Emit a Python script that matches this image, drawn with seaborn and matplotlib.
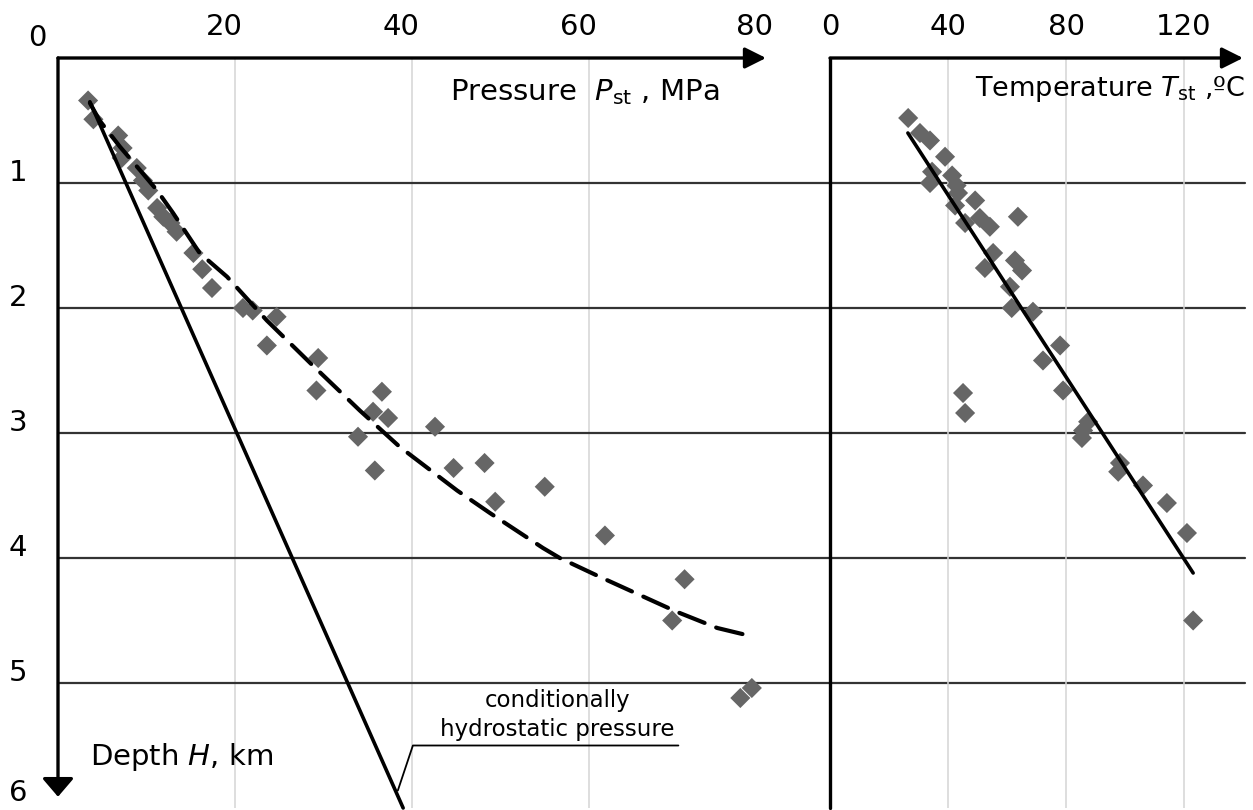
import numpy as np
import pandas as pd
import seaborn as sns
import matplotlib.pyplot as plt

# measured pressure vs depth (MPa, km)
pressure = [3.4, 4.0, 6.8, 7.3, 7.2, 8.9, 9.6, 10.2, 11.2, 11.9, 12.7, 13.4,
            15.3, 16.3, 17.4, 20.9, 22.0, 24.7, 23.6, 29.4, 29.2, 36.6, 35.6,
            37.3, 33.9, 35.8, 42.6, 44.7, 48.2, 49.4, 55.0, 61.8, 70.8, 69.4,
            78.4, 77.1]
pressure_depth = [0.34, 0.49, 0.62, 0.72, 0.80, 0.88, 0.98, 1.06, 1.20, 1.27,
                  1.32, 1.39, 1.56, 1.69, 1.84, 2.00, 2.02, 2.07, 2.30, 2.40,
                  2.66, 2.67, 2.83, 2.88, 3.03, 3.30, 2.95, 3.28, 3.24, 3.55,
                  3.43, 3.82, 4.17, 4.50, 5.04, 5.12]

# trend curve through the pressure points (dashed)
trend_p = [3.6, 4.7, 7.0, 9.3, 11.2, 13.0, 16.0, 19.1, 23.6, 28.5, 34.1, 38.6,
           45.1, 48.8, 54.8, 56.7, 61.2, 69.9, 74.5, 78.6]
trend_h = [0.36, 0.50, 0.71, 0.90, 1.06, 1.24, 1.56, 1.75, 2.10, 2.44, 2.82,
           3.11, 3.46, 3.64, 3.92, 4.00, 4.15, 4.43, 4.56, 4.63]

# conditionally hydrostatic pressure line
hydro_p = [3.6, 39.0]
hydro_h = [0.35, 6.0]

# measured temperature vs depth (degC, km)
temperature = [26.5, 30.5, 33.9, 39.0, 34.6, 33.9, 41.4, 42.9, 43.4, 49.2, 42.4,
               45.8, 50.8, 54.2, 63.7, 55.3, 52.5, 62.7, 65.1, 61.0, 61.6, 68.8,
               78.0, 72.2, 79.0, 45.1, 45.8, 87.5, 85.8, 85.4, 98.3, 97.7, 106.1,
               114.2, 121.0, 123.1]
temperature_depth = [0.48, 0.60, 0.66, 0.79, 0.91, 1.00, 0.94, 1.02, 1.08, 1.14,
                     1.18, 1.32, 1.28, 1.35, 1.27, 1.56, 1.68, 1.62, 1.70, 1.83,
                     2.00, 2.03, 2.30, 2.42, 2.66, 2.68, 2.84, 2.91, 2.98, 3.04,
                     3.24, 3.31, 3.42, 3.56, 3.80, 4.50]

# linear fit for temperature
tfit_t = [26.4, 123.1]
tfit_h = [0.60, 4.12]

p_ticks = [20, 40, 60, 80]
t_ticks = [0, 40, 80, 120]
depth_ticks = [1, 2, 3, 4, 5, 6]

sns.set_style("white")
plt.rcParams['font.family'] = ['DejaVu Sans']
plt.rcParams['mathtext.fontset'] = 'dejavusans'
plt.rcParams['text.color'] = 'black'

W, H = 1253, 810
fig = plt.figure(figsize=(W / 100, H / 100), dpi=100)


def px_axes(x0, x1, y0, y1):
    return fig.add_axes([x0 / W, 1 - y1 / H, (x1 - x0) / W, (y1 - y0) / H])


ax1 = px_axes(58, 766, 58, 808)
ax2 = px_axes(830, 1243, 58, 808)

ax1.set_xlim(0, 80)
ax2.set_xlim(0, 140)
for ax in (ax1, ax2):
    ax.set_ylim(6, 0)
    ax.set_xticks([])
    ax.set_yticks([])
    for s in ax.spines.values():
        s.set_visible(False)
    ax.patch.set_alpha(0)

marker_color = '#666666'
arrow = dict(arrowstyle='-|>', lw=2.4, color='black', mutation_scale=32,
             shrinkA=0, shrinkB=0)
tick_fs = 21

# ---- pressure panel ----
for x in [20, 40, 60]:
    ax1.axvline(x, color='#d4d4d4', lw=1.1, zorder=0)
for d in [1, 2, 3, 4, 5]:
    ax1.axhline(d, xmin=0, xmax=(1245 - 58) / 708, color='#333333', lw=1.6,
                clip_on=False, zorder=1)

df_p = pd.DataFrame({'P': pressure, 'H': pressure_depth})
sns.scatterplot(data=df_p, x='P', y='H', marker='D', s=105, color=marker_color,
                edgecolor='none', ax=ax1, zorder=3)
ax1.plot(trend_p, trend_h, color='black', lw=3.0, dashes=(6.5, 3), zorder=4,
         solid_capstyle='round', dash_capstyle='round')
ax1.plot(hydro_p, hydro_h, color='black', lw=2.6, zorder=4, clip_on=False)

ax1.annotate('', xy=(80, 0), xytext=(0, 0), arrowprops=arrow,
             annotation_clip=False)
ax1.annotate('', xy=(0, 5.91), xytext=(0, 0),
             arrowprops=dict(arrow, arrowstyle='-|>,head_length=0.35,head_width=0.3'),
             annotation_clip=False)

for x in p_ticks:
    ax1.text(x - 1.25, -0.25, str(x), ha='center', va='center', fontsize=tick_fs)
ax1.text(-2.3, -0.16, '0', ha='center', va='center', fontsize=tick_fs)
for d in depth_ticks:
    ax1.text(-4.5, d - 0.08 if d < 6 else 5.88, str(d), ha='center',
             va='center', fontsize=tick_fs)

ax1.text(44.3, 0.27, r'Pressure  $\mathit{P}_{\mathrm{st}}$ , MPa', ha='left',
         va='center', fontsize=21)
ax1.text(3.6, 5.59, r'Depth $\mathit{H}$, km', ha='left', va='center',
         fontsize=21)

# leader line for the hydrostatic label
ax1.plot([38.4, 40.1, 70.1], [5.86, 5.50, 5.50], color='black', lw=1.3,
         clip_on=False, zorder=4)
ax1.text(56.4, 5.14, 'conditionally', ha='center', va='center', fontsize=16.5)
ax1.text(56.4, 5.37, 'hydrostatic pressure', ha='center', va='center',
         fontsize=16.5)

# ---- temperature panel ----
for x in [40, 80, 120]:
    ax2.axvline(x, color='#d4d4d4', lw=1.1, zorder=0)

df_t = pd.DataFrame({'T': temperature, 'H': temperature_depth})
sns.scatterplot(data=df_t, x='T', y='H', marker='D', s=105, color=marker_color,
                edgecolor='none', ax=ax2, zorder=3)
ax2.plot(tfit_t, tfit_h, color='black', lw=2.6, zorder=4)

ax2.annotate('', xy=(140, 0), xytext=(0, 0), arrowprops=arrow,
             annotation_clip=False)
ax2.plot([0, 0], [0, 6], color='black', lw=2.4, clip_on=False)

for x in t_ticks:
    ax2.text(x, -0.25, str(x), ha='center', va='center', fontsize=tick_fs)
ax2.text(140.7, 0.25, r'Temperature $\mathit{T}_{\mathrm{st}}$ ,ºC', ha='right',
         va='center', fontsize=19.5)

ax1.set_xlabel('')
ax1.set_ylabel('')
ax2.set_xlabel('')
ax2.set_ylabel('')

fig.savefig('out.png', dpi=100)
